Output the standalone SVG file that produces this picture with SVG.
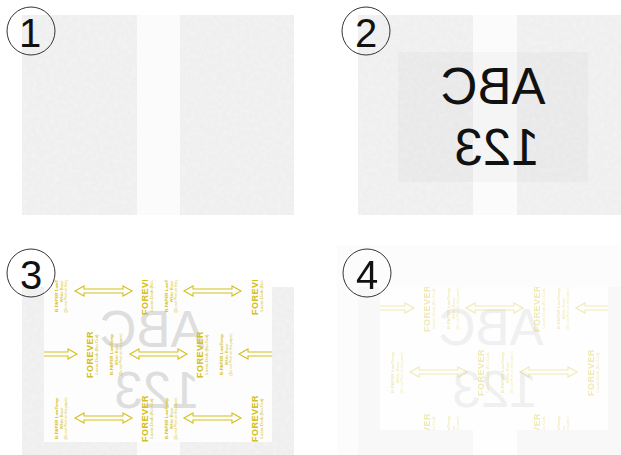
<svg xmlns="http://www.w3.org/2000/svg" xmlns:xlink="http://www.w3.org/1999/xlink" width="621" height="455" viewBox="0 0 621 455">
<style>
.num{font-family:"Liberation Sans",Arial,sans-serif;font-size:40px;fill:#111;text-anchor:middle}
.ring{fill:none;stroke:#333;stroke-width:1}
.gray{fill:#efefef}
.strip{fill:#fbfbfb}
.big{font-family:"Liberation Sans",Arial,sans-serif;font-size:51px;text-anchor:middle}
.y{font-family:"Liberation Sans",Arial,sans-serif;fill:#d4c01c;text-anchor:middle}
.arr{fill:#fff;stroke:#d4c01c;stroke-width:1.1}
</style>
<defs>
<filter id="tex" x="0" y="0" width="100%" height="100%">
<feTurbulence type="fractalNoise" baseFrequency="0.22" numOctaves="2" seed="3"/>
<feColorMatrix type="matrix" values="0 0 0 0 1  0 0 0 0 1  0 0 0 0 1  0 0 0 0.9 -0.35"/>
<feComposite in2="SourceGraphic" operator="in"/>
</filter>
<g id="blk">
<text class="y" transform="translate(7.5,22.5) rotate(-90)" font-size="9" font-weight="bold" letter-spacing="0.5">FOREVER</text>
<text class="y" transform="translate(12.5,22.5) rotate(-90)" font-size="4.4">Laser-Dark (No-Cut)</text>
<text class="y" transform="translate(28,22.5) rotate(-90)" font-size="4.4" font-weight="bold">B-PAPER LowTemp</text>
<text class="y" transform="translate(32.5,22.5) rotate(-90)" font-size="4.2">White Base</text>
<text class="y" transform="translate(37,22.5) rotate(-90)" font-size="3.5">(Do not Print on this paper)</text>
</g>
<path id="arw" class="arr" d="M0,0 L9,-5 L9,-2 L48,-2 L48,-5 L57,0 L48,5 L48,2 L9,2 L9,5 Z"/>
<clipPath id="c3"><rect x="44" y="280" width="228" height="162"/></clipPath>
<clipPath id="c4"><rect x="380" y="287" width="228" height="143"/></clipPath>
</defs>

<g id="panel1">
<rect class="strip" x="137" y="15" width="43" height="200"/>
<rect class="gray" x="22" y="15" width="115" height="200"/>
<rect class="gray" x="180" y="15" width="114" height="200"/>
<rect x="22" y="15" width="115" height="200" fill="#fff" filter="url(#tex)" opacity="0.6"/>
<rect x="180" y="15" width="114" height="200" fill="#fff" filter="url(#tex)" opacity="0.6"/>
<circle class="ring" cx="31" cy="31" r="24"/>
<text class="num" x="30" y="47">1</text>
</g>

<g id="panel2">
<rect class="strip" x="473" y="15" width="44" height="200"/>
<rect class="gray" x="358" y="15" width="115" height="200"/>
<rect class="gray" x="517" y="15" width="104" height="200"/>
<rect x="358" y="15" width="115" height="200" fill="#fff" filter="url(#tex)" opacity="0.6"/>
<rect x="517" y="15" width="104" height="200" fill="#fff" filter="url(#tex)" opacity="0.6"/>
<rect x="398" y="52" width="190" height="130" fill="#000" opacity="0.022"/>
<text class="big" fill="#111" transform="translate(493,104) scale(-1,1)">ABC</text>
<text class="big" fill="#111" transform="translate(497,165) scale(-1,1)">123</text>
<circle class="ring" cx="366" cy="31" r="24"/>
<text class="num" x="366" y="47">2</text>
</g>

<g id="panel3">
<rect class="strip" x="137" y="287" width="43" height="168"/>
<rect class="gray" x="22" y="287" width="115" height="168"/>
<rect class="gray" x="180" y="287" width="114" height="168"/>
<rect x="22" y="287" width="115" height="168" fill="#fff" filter="url(#tex)" opacity="0.6"/>
<rect x="180" y="287" width="114" height="168" fill="#fff" filter="url(#tex)" opacity="0.6"/>
<rect x="44" y="280" width="228" height="162" fill="#fdfdfd"/>
<text class="big" fill="#dedede" transform="translate(152,347) scale(-1,1)">ABC</text>
<text class="big" fill="#dedede" transform="translate(157,408) scale(-1,1)">123</text>
<g clip-path="url(#c3)">
<use xlink:href="#blk" x="30" y="269"/><use xlink:href="#blk" x="140" y="269"/><use xlink:href="#blk" x="250" y="269"/>
<use xlink:href="#arw" x="75" y="291"/><use xlink:href="#arw" x="184" y="291"/>
<use xlink:href="#blk" x="85" y="332"/><use xlink:href="#blk" x="195" y="332"/>
<use xlink:href="#arw" x="20" y="354"/><use xlink:href="#arw" x="130" y="354"/><use xlink:href="#arw" x="239" y="354"/>
<use xlink:href="#blk" x="30" y="396"/><use xlink:href="#blk" x="140" y="396"/><use xlink:href="#blk" x="250" y="396"/>
<use xlink:href="#arw" x="75" y="418"/><use xlink:href="#arw" x="184" y="418"/>
</g>
<circle class="ring" cx="31" cy="273" r="24"/>
<text class="num" x="31" y="289">3</text>
</g>

<g id="panel4">
<rect x="337" y="245" width="284" height="210" fill="#fcfcfc"/>
<rect x="473" y="287" width="44" height="168" fill="#fefefe"/>
<rect x="358" y="287" width="115" height="168" fill="#f8f8f8"/>
<rect x="517" y="287" width="104" height="168" fill="#f8f8f8"/>
<rect x="380" y="287" width="228" height="143" fill="#fefefe"/>
<text class="big" fill="#f0f0f0" transform="translate(491,345) scale(-1,1)">ABC</text>
<text class="big" fill="#f0f0f0" transform="translate(495,407) scale(-1,1)">123</text>
<g clip-path="url(#c4)" opacity="0.32">
<use xlink:href="#blk" x="422" y="286"/><use xlink:href="#blk" x="532" y="286"/>
<use xlink:href="#arw" x="357" y="308"/><use xlink:href="#arw" x="466" y="308"/><use xlink:href="#arw" x="576" y="308"/>
<use xlink:href="#blk" x="366" y="350"/><use xlink:href="#blk" x="476" y="350"/><use xlink:href="#blk" x="586" y="350"/>
<use xlink:href="#arw" x="410" y="372"/><use xlink:href="#arw" x="520" y="372"/>
<use xlink:href="#blk" x="422" y="414"/><use xlink:href="#blk" x="532" y="414"/>
</g>
<circle class="ring" cx="367" cy="273" r="24"/>
<text class="num" x="367" y="289">4</text>
</g>
</svg>
